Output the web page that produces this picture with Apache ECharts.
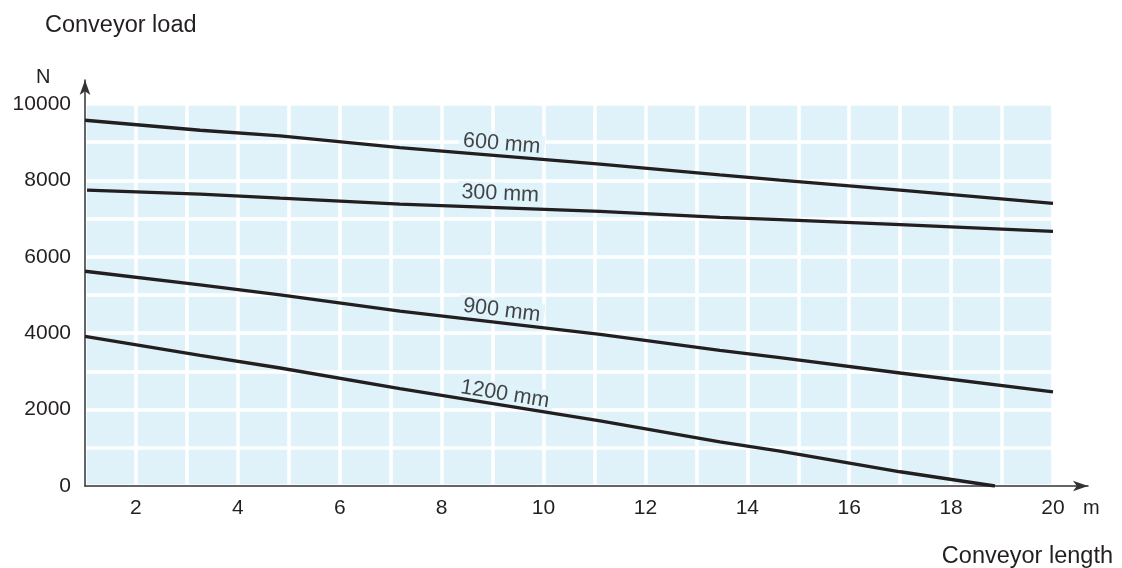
<!DOCTYPE html>
<html>
<head>
<meta charset="utf-8">
<script src="https://cdn.jsdelivr.net/npm/echarts@6/dist/echarts.min.js"></script>
<style>html,body{margin:0;padding:0;background:#fff}#c{width:1122px;height:568px}</style>
</head>
<body>
<div id="c"></div>
<script>
// Conveyor length (m) sample points
const lengthM = [1, 3.26, 4.83, 7.18, 11.11, 13.46, 14.64, 17.0, 20];
const length300 = [1.04, 3.26, 4.83, 7.18, 11.11, 13.46, 14.64, 17.0, 20];
const length1200 = [1, 3.26, 4.83, 7.18, 11.11, 13.46, 14.64, 17.0, 18.86];
// Conveyor load (N)
const load600 = [9575, 9313, 9164, 8860, 8425, 8146, 8008, 7747, 7397];
const load300 = [7747, 7642, 7537, 7381, 7189, 7032, 6971, 6841, 6666];
const load900 = [5622, 5266, 5005, 4577, 3969, 3551, 3360, 2958, 2462];
const load1200 = [3916, 3420, 3089, 2550, 1705, 1157, 914, 373, 0];
// Line labels
const labelNames = ['600 mm', '300 mm', '900 mm', '1200 mm'];
const labelX = [9.18, 9.15, 9.18, 9.24];
const labelY = [8956, 7650, 4595, 2402];
const labelAngle = [-4.9, -2.6, -7.0, -9.2];

const FONT = "'Liberation Sans', Arial, Helvetica, sans-serif";
const TXT = '#231f20';
const BG = '#dff2fa';

function pairs(xs, ys) { return xs.map((x, i) => [x, ys[i]]); }
function lineSeries(name, xs, ys) {
  return {
    name: name, type: 'line', xAxisIndex: 0, yAxisIndex: 0, z: 3,
    data: pairs(xs, ys), symbol: 'none', smooth: false,
    lineStyle: { color: TXT, width: 3.3 }, silent: true
  };
}

const chart = echarts.init(document.getElementById('c'), null, { renderer: 'canvas' });
chart.setOption({
  animation: false,
  backgroundColor: '#fff',
  textStyle: { fontFamily: FONT },
  title: [
    { text: 'Conveyor load', left: 40, top: 9, textStyle: { fontSize: 23.5, fontWeight: 'normal', color: TXT, fontFamily: FONT } },
    { text: 'Conveyor length', right: 4, top: 540, textStyle: { fontSize: 23.5, fontWeight: 'normal', color: TXT, fontFamily: FONT } },
    { text: 'N', left: 31, top: 62, textStyle: { fontSize: 20, fontWeight: 'normal', color: TXT, fontFamily: FONT } },
    { text: 'm', left: 1078, top: 493, textStyle: { fontSize: 20, fontWeight: 'normal', color: TXT, fontFamily: FONT } }
  ],
  grid: [
    { left: 85, right: 69, top: 104, bottom: 82, show: true, backgroundColor: BG, borderWidth: 0, containLabel: false },
    { left: 85, right: 34, top: 80, bottom: 82, show: false, containLabel: false }
  ],
  xAxis: [
    {
      type: 'value', gridIndex: 0, min: 1, max: 20, interval: 1,
      axisLine: { show: false }, axisTick: { show: false },
      axisLabel: { show: true, fontSize: 21, color: TXT, fontFamily: FONT, margin: 12,
        formatter: v => (v % 2 === 0 ? String(v) : '') },
      splitLine: { show: true, lineStyle: { color: '#ffffff', width: 3.5 } }
    },
    {
      type: 'value', gridIndex: 1, min: 1, max: 20.69,
      axisLine: { show: true, onZero: false, symbol: ['none', 'arrow'], symbolSize: [8, 15],
        lineStyle: { color: '#333', width: 1.5 } },
      axisTick: { show: false }, axisLabel: { show: false }, splitLine: { show: false }
    }
  ],
  yAxis: [
    {
      type: 'value', gridIndex: 0, min: 0, max: 10000, interval: 1000,
      axisLine: { show: false }, axisTick: { show: false },
      axisLabel: { show: true, fontSize: 21, color: TXT, fontFamily: FONT, margin: 14,
        formatter: v => (v % 2000 === 0 ? String(v) : '') },
      splitLine: { show: true, lineStyle: { color: '#ffffff', width: 3.5 } }
    },
    {
      type: 'value', gridIndex: 1, min: 0, max: 10628,
      axisLine: { show: true, onZero: false, symbol: ['none', 'arrow'], symbolSize: [8, 15],
        lineStyle: { color: '#333', width: 1.5 } },
      axisTick: { show: false }, axisLabel: { show: false }, splitLine: { show: false }
    }
  ],
  series: [
    lineSeries('600 mm', lengthM, load600),
    lineSeries('300 mm', length300, load300),
    lineSeries('900 mm', lengthM, load900),
    lineSeries('1200 mm', length1200, load1200),
    {
      type: 'scatter', xAxisIndex: 0, yAxisIndex: 0, z: 2, symbolSize: 1,
      itemStyle: { color: BG }, silent: true,
      data: labelNames.map((n, i) => ({
        name: n, value: [labelX[i], labelY[i]],
        label: { rotate: labelAngle[i] }
      })),
      label: {
        show: true, position: 'inside', formatter: p => p.name,
        fontSize: 21.5, color: '#1a1718', fontFamily: FONT,
        backgroundColor: BG, padding: [0, 4]
      }
    }
  ]
});
</script>
</body>
</html>
